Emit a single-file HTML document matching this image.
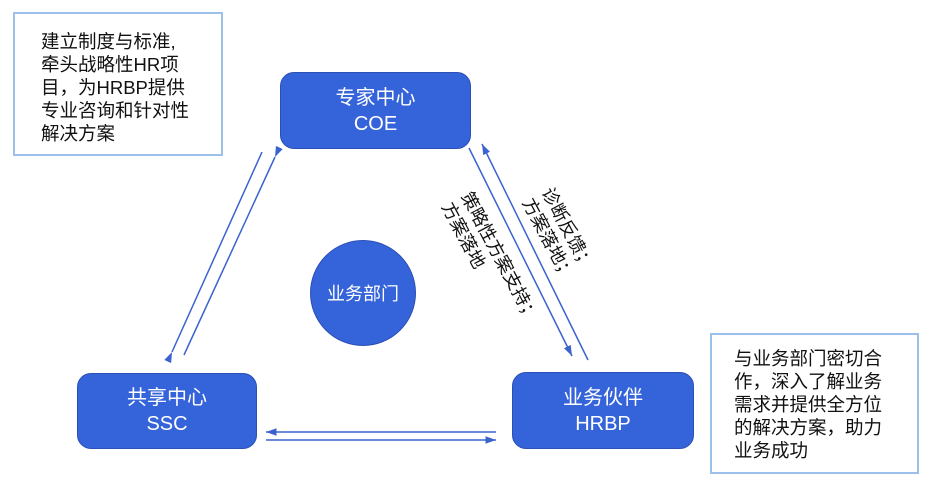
<!DOCTYPE html>
<html><head><meta charset="utf-8"><style>
body{margin:0;width:939px;height:500px;background:#fff;position:relative;overflow:hidden;font-family:"Liberation Sans","Noto Sans CJK SC",sans-serif}
.box{position:absolute;background:#3563d9;border:1px solid #2a4fb5;border-radius:14px;color:#fff;text-align:center;font-size:20px;line-height:26px;box-sizing:border-box;display:flex;flex-direction:column;justify-content:center}
.note{position:absolute;border:2px solid #9cc0ea;font-size:18.5px;line-height:23px;color:#111;box-sizing:border-box}
.rot{position:absolute;font-size:18px;line-height:22px;color:#111;white-space:nowrap;transform-origin:center;transform:translate(-50%,-50%) rotate(62deg)}
</style></head><body>
<div class="note" style="left:13px;top:12px;width:210px;height:144px;padding:16px 0 0 26px">建立制度与标准,<br>牵头战略性HR项<br>目，为HRBP提供<br>专业咨询和针对性<br>解决方案</div>
<div class="note" style="left:710px;top:333px;width:209px;height:141px;padding:12px 0 0 22px">与业务部门密切合<br>作，深入了解业务<br>需求并提供全方位<br>的解决方案，助力<br>业务成功</div>
<div class="box" style="left:280px;top:72px;width:191px;height:77px">专家中心<br>COE</div>
<div class="box" style="left:77px;top:373px;width:180px;height:76px">共享中心<br>SSC</div>
<div class="box" style="left:512px;top:372px;width:182px;height:77px">业务伙伴<br>HRBP</div>
<div style="position:absolute;left:310px;top:240px;width:104px;height:104px;border-radius:50%;background:#3563d9;border:1px solid #2a4fb5;color:#fff;font-size:18px;display:flex;align-items:center;justify-content:center">业务部门</div>
<svg width="939" height="500" style="position:absolute;left:0;top:0">
<defs><marker id="a" markerWidth="8" markerHeight="6" refX="7" refY="3" orient="auto"><path d="M0,0.5 L7,3 L0,5.5 Z" fill="#3a63d0"/></marker></defs>
<g stroke="#3a63d0" stroke-width="1.5" fill="none">
<line x1="172" y1="352" x2="262" y2="152" marker-start="url(#a)"/>
<line x1="275" y1="157" x2="184" y2="355" marker-start="url(#a)"/>
<line x1="469" y1="148" x2="572" y2="356" marker-end="url(#a)"/>
<line x1="588" y1="360" x2="482" y2="144" marker-end="url(#a)"/>
<line x1="496" y1="432" x2="266" y2="432" marker-end="url(#a)"/>
<line x1="266" y1="440" x2="496" y2="440" marker-end="url(#a)"/>
</g></svg>
<div class="rot" style="left:490px;top:262px">策略性方案支持；<br>方案落地</div>
<div class="rot" style="left:558px;top:234px">诊断反馈；<br>方案落地；</div>
</body></html>
